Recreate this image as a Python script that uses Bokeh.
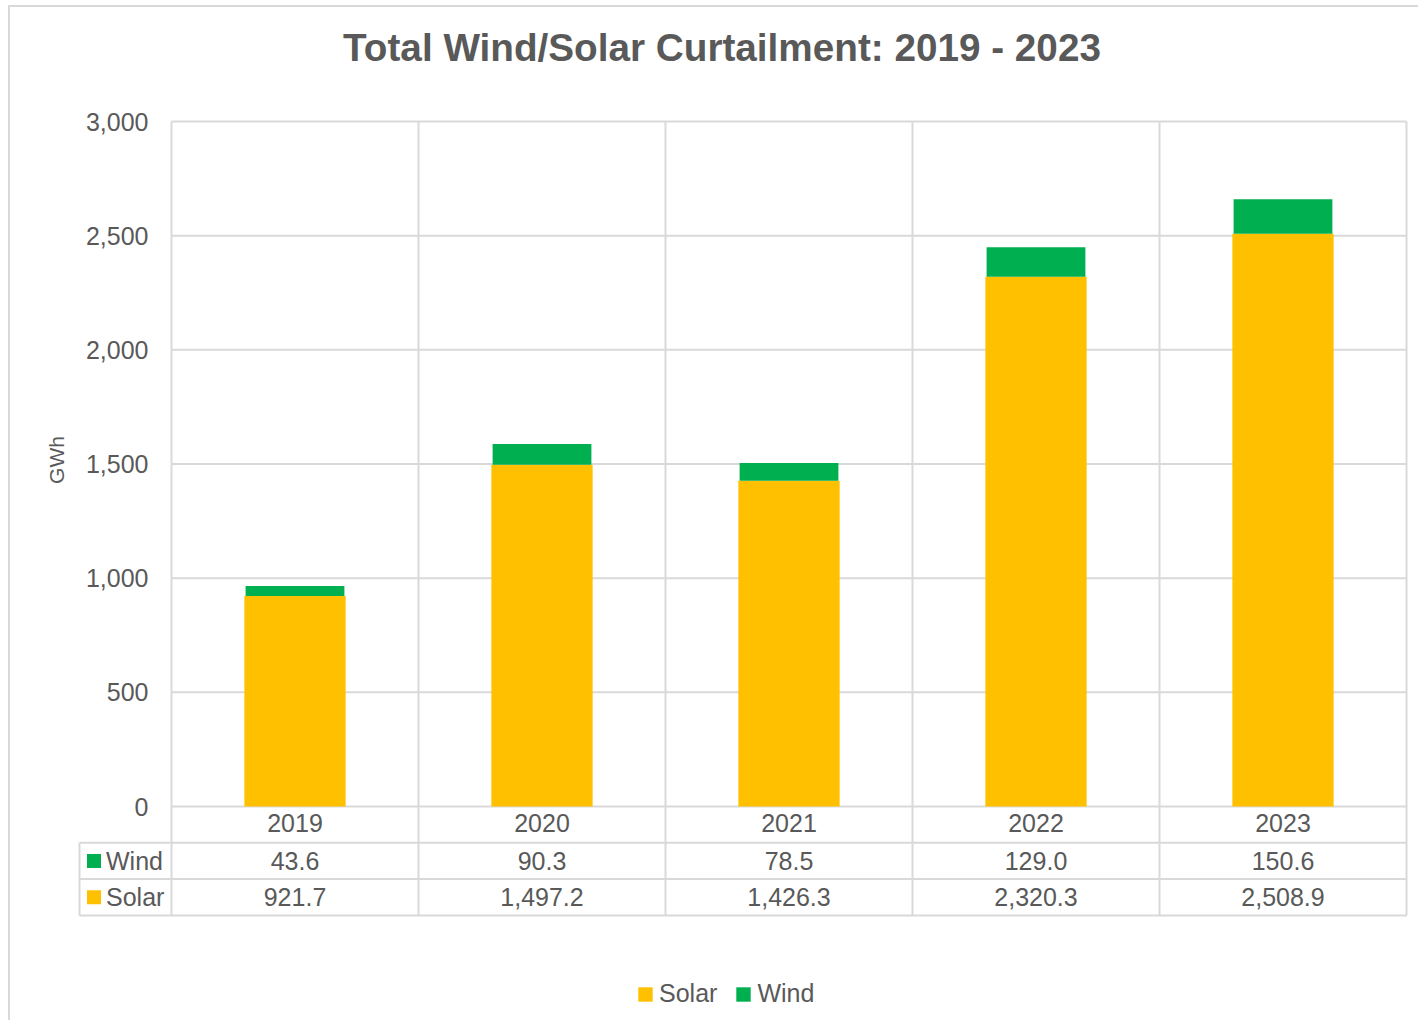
import numpy as np
from bokeh.plotting import figure
from bokeh.models import (Range1d, FixedTicker, NumeralTickFormatter,
                          Legend, LegendItem, ColumnDataSource)
from bokeh.layouts import column
from bokeh.embed import file_html
from bokeh.resources import INLINE
from bokeh.core.properties import value

# ---------------- data ----------------
years = ["2019", "2020", "2021", "2022", "2023"]
wind = [43.6, 90.3, 78.5, 129.0, 150.6]
solar = [921.7, 1497.2, 1426.3, 2320.3, 2508.9]
y_ticks = [0, 500, 1000, 1500, 2000, 2500, 3000]
title_text = "Total Wind/Solar Curtailment: 2019 - 2023"
y_label = "GWh"
row_names = ["Wind", "Solar"]

# ---------------- style ----------------
SOLAR_C = "#FFC000"
WIND_C = "#00B050"
GRID_C = "#D9D9D9"
TEXT_C = "#595959"
FONT = "Liberation Sans"

n = len(years)
xs = np.arange(n) + 0.5
total = np.add(solar, wind)

W, H = 1418, 1020
CAT_PX = 247.0                  # pixel width of one category
PX_PER_UNIT = 685.0 / 3000.0    # pixels per GWh
ROW_PX = 36.3                   # data-table row height
FRAME_L, FRAME_T = 40, 12
PLOT_L, PLOT_T, ZERO_Y = 171, 121, 806

x_start = -(PLOT_L - FRAME_L) / CAT_PX
x_end = n + 3 / CAT_PX
y_end = y_ticks[-1] + (PLOT_T - FRAME_T) / PX_PER_UNIT
y_start = -(H - ZERO_Y) / PX_PER_UNIT
ROW_U = ROW_PX / PX_PER_UNIT

p = figure(width=W, height=H, x_range=Range1d(x_start, x_end),
           y_range=Range1d(y_start, y_end),
           output_backend="svg", toolbar_location=None,
           min_border_left=FRAME_L, min_border_right=W - 1406 - 3,
           min_border_top=FRAME_T, min_border_bottom=0)
p.border_fill_color = None
p.background_fill_color = None
p.outline_line_color = None
p.grid.visible = False

# ---- title (drawn above the value axis top) ----
title_x = (721.5 - PLOT_L) / CAT_PX
title_y = y_ticks[-1] + (PLOT_T - 47) / PX_PER_UNIT
p.text(x=[title_x], y=[title_y], text=[title_text], text_align="center",
       text_baseline="middle", text_font=value(FONT), text_font_size="38.7px",
       text_font_style="bold", text_color=TEXT_C)

# ---- gridlines / table rules ----
left_edge = -(PLOT_L - 79) / CAT_PX
table_bottom = -3 * ROW_U
p.segment(x0=[0] * len(y_ticks), y0=y_ticks, x1=[n] * len(y_ticks), y1=y_ticks,
          line_color=GRID_C, line_width=2)
vx = list(range(n + 1))
p.segment(x0=vx, y0=[table_bottom] * len(vx), x1=vx, y1=[y_ticks[-1]] * len(vx),
          line_color=GRID_C, line_width=2)
hy = [-ROW_U, -2 * ROW_U, -3 * ROW_U]
p.segment(x0=[left_edge] * 3, y0=hy, x1=[n] * 3, y1=hy,
          line_color=GRID_C, line_width=2)
p.segment(x0=[left_edge], y0=[-ROW_U], x1=[left_edge], y1=[table_bottom],
          line_color=GRID_C, line_width=2)

# ---- bars ----
src = ColumnDataSource(dict(x=xs, year=years, solar=solar, wind=wind, total=total))
p.vbar(x="x", bottom=0, top="solar", width=0.41, source=src,
       fill_color=SOLAR_C, line_color=None)
p.vbar(x="x", bottom="solar", top="total", width=0.40, source=src,
       fill_color=WIND_C, line_color=None)

# ---- y axis ----
ya = p.yaxis[0]
ya.bounds = (y_ticks[0], y_ticks[-1])
ya.ticker = FixedTicker(ticks=y_ticks)
ya.formatter = NumeralTickFormatter(format="0,0")
ya.axis_line_color = None
ya.major_tick_line_color = None
ya.minor_tick_line_color = None
ya.major_tick_out = 0
ya.major_tick_in = 0
ya.major_label_standoff = -(148 - FRAME_L)
ya.major_label_text_font = FONT
ya.major_label_text_font_size = "25px"
ya.major_label_text_color = TEXT_C

# axis title (rotated), centred on the value axis
gx = (55.5 - PLOT_L) / CAT_PX
p.text(x=[gx], y=[(y_ticks[0] + y_ticks[-1]) / 2], text=[y_label], y_offset=-4,
       angle=np.pi / 2, text_align="center", text_baseline="middle",
       text_font=value(FONT), text_font_size="21px", text_color=TEXT_C)

# ---- x axis: years in the first row of the data table ----
xa = p.xaxis[0]
xa.fixed_location = 0
xa.ticker = FixedTicker(ticks=list(xs))
xa.major_label_overrides = {float(x): y for x, y in zip(xs, years)}
xa.axis_line_color = None
xa.major_tick_line_color = None
xa.minor_tick_line_color = None
xa.major_tick_out = 0
xa.major_tick_in = 0
xa.major_label_standoff = 7
xa.major_label_text_font = FONT
xa.major_label_text_font_size = "25px"
xa.major_label_text_color = TEXT_C

# ---- data table values ----
tsrc = ColumnDataSource(dict(
    x=xs,
    w=[f"{v:,.1f}" for v in wind],
    s=[f"{v:,.1f}" for v in solar],
    yw=[-1.5 * ROW_U] * n, ys=[-2.5 * ROW_U] * n))
for col, ycol in (("w", "yw"), ("s", "ys")):
    p.text(x="x", y=ycol, text=col, source=tsrc, text_align="center",
           text_baseline="middle", text_font=value(FONT), text_font_size="25px",
           text_color=TEXT_C)

sq_x = (93.5 - PLOT_L) / CAT_PX
lbl_x = (105.5 - PLOT_L) / CAT_PX
row_y = [-1.5 * ROW_U, -2.5 * ROW_U]
sq_w = p.rect(x=[sq_x], y=[row_y[0]], width=14, height=14, width_units="screen",
              height_units="screen", fill_color=WIND_C, line_color=None)
sq_s = p.rect(x=[sq_x], y=[row_y[1]], width=14, height=14, width_units="screen",
              height_units="screen", fill_color=SOLAR_C, line_color=None)
p.text(x=[lbl_x, lbl_x], y=row_y, text=row_names,
       text_align="left", text_baseline="middle", text_font=value(FONT),
       text_font_size="25px", text_color=TEXT_C)

# ---- legend ----
legend = Legend(items=[LegendItem(label="Solar", renderers=[sq_s]),
                       LegendItem(label="Wind", renderers=[sq_w])],
                orientation="horizontal", location=(636 - FRAME_L, 12),
                padding=0, margin=0, spacing=17, label_standoff=5,
                glyph_width=18, glyph_height=18,
                label_text_font=FONT, label_text_font_size="25px",
                label_text_color=TEXT_C, border_line_color=None,
                background_fill_alpha=0)
p.add_layout(legend)

layout = column(p, styles={"box-shadow": "inset 8px 5px 0 0 #FFFFFF, inset 10px 7px 0 0 #D9D9D9"})

open("out.html", "w").write(file_html(layout, INLINE))
